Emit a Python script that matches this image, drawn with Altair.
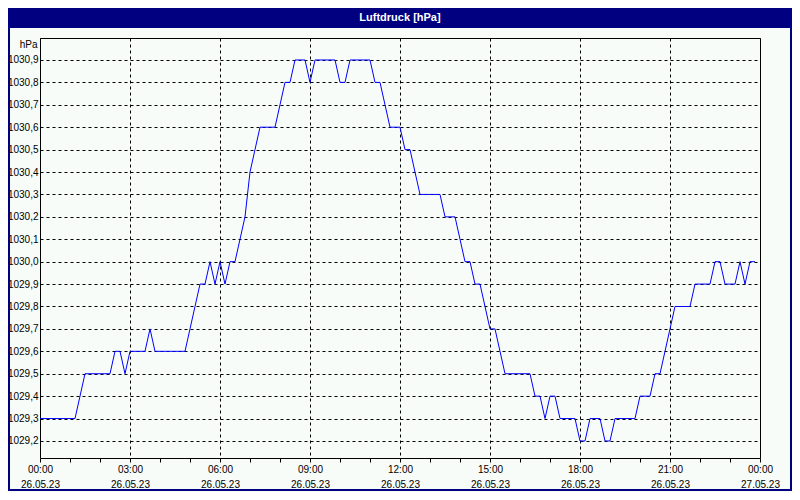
import json
import altair as alt
import pandas as pd

# Air pressure readings (hPa), one every 10 minutes from 26.05.23 00:00 to 23:50
pressure = [
    1029.3, 1029.3, 1029.3, 1029.3, 1029.3, 1029.3, 1029.3, 1029.3, 1029.4, 1029.5, 1029.5, 1029.5,
    1029.5, 1029.5, 1029.5, 1029.6, 1029.6, 1029.5, 1029.6, 1029.6, 1029.6, 1029.6, 1029.7, 1029.6,
    1029.6, 1029.6, 1029.6, 1029.6, 1029.6, 1029.6, 1029.7, 1029.8, 1029.9, 1029.9, 1030.0, 1029.9,
    1030.0, 1029.9, 1030.0, 1030.0, 1030.1, 1030.2, 1030.4, 1030.5, 1030.6, 1030.6, 1030.6, 1030.6,
    1030.7, 1030.8, 1030.8, 1030.9, 1030.9, 1030.9, 1030.8, 1030.9, 1030.9, 1030.9, 1030.9, 1030.9,
    1030.8, 1030.8, 1030.9, 1030.9, 1030.9, 1030.9, 1030.9, 1030.8, 1030.8, 1030.7, 1030.6, 1030.6,
    1030.6, 1030.5, 1030.5, 1030.4, 1030.3, 1030.3, 1030.3, 1030.3, 1030.3, 1030.2, 1030.2, 1030.2,
    1030.1, 1030.0, 1030.0, 1029.9, 1029.9, 1029.8, 1029.7, 1029.7, 1029.6, 1029.5, 1029.5, 1029.5,
    1029.5, 1029.5, 1029.5, 1029.4, 1029.4, 1029.3, 1029.4, 1029.4, 1029.3, 1029.3, 1029.3, 1029.3,
    1029.2, 1029.2, 1029.3, 1029.3, 1029.3, 1029.2, 1029.2, 1029.3, 1029.3, 1029.3, 1029.3, 1029.3,
    1029.4, 1029.4, 1029.4, 1029.5, 1029.5, 1029.6, 1029.7, 1029.8, 1029.8, 1029.8, 1029.8, 1029.9,
    1029.9, 1029.9, 1029.9, 1030.0, 1030.0, 1029.9, 1029.9, 1029.9, 1030.0, 1029.9, 1030.0, 1030.0,
]
SAMPLE_MINUTES = 10

time_labels = ["00:00", "03:00", "06:00", "09:00", "12:00", "15:00", "18:00", "21:00", "00:00"]
date_labels = ["26.05.23", "26.05.23", "26.05.23", "26.05.23", "26.05.23",
               "26.05.23", "26.05.23", "26.05.23", "27.05.23"]
y_ticks = [1029.2, 1029.3, 1029.4, 1029.5, 1029.6, 1029.7, 1029.8, 1029.9,
           1030.0, 1030.1, 1030.2, 1030.3, 1030.4, 1030.5, 1030.6, 1030.7, 1030.8, 1030.9]
x_ticks = list(range(25))

df = pd.DataFrame({
    "hour": [i * SAMPLE_MINUTES / 60 for i in range(len(pressure))],
    "hpa": pressure,
})

FONT = "Liberation Sans"
NAVY = "#000080"
BG = "#f8fcf8"

label_expr = (
    "datum.value % 3 === 0 ? [" + json.dumps(time_labels) + "[datum.value / 3], "
    + json.dumps(date_labels) + "[datum.value / 3]] : ''"
)

line = alt.Chart(df).mark_line(color="#0000ff", strokeWidth=1).encode(
    x=alt.X(
        "hour:Q",
        scale=alt.Scale(domain=[0, 24], nice=False, zero=False),
        axis=alt.Axis(
            values=x_ticks,
            title=None,
            domain=False,
            ticks=True,
            tickSize=4,
            tickColor="black",
            labelExpr=label_expr,
            labelLineHeight=15,
            labelBaseline="top",
            labelPadding=2,
            labelFont=FONT,
            labelFontSize=10,
            labelColor="black",
            labelFlush=False,
            labelOverlap=False,
            grid=True,
            gridColor="black",
            gridDash=[3, 3],
            gridWidth=1,
            gridOpacity={"condition": {"test": "datum.value % 3 === 0", "value": 1}, "value": 0},
        ),
    ),
    y=alt.Y(
        "hpa:Q",
        scale=alt.Scale(domain=[1029.124, 1030.998], nice=False, zero=False),
        axis=alt.Axis(
            values=y_ticks,
            title="hPa",
            titleAngle=0,
            titleAlign="right",
            titleBaseline="middle",
            titleX=-3,
            titleY=6,
            titleFont=FONT,
            titleFontSize=10,
            titleFontWeight="normal",
            titleColor="black",
            domain=False,
            ticks=False,
            labelExpr="replace(format(datum.value, '.1f'), '.', ',')",
            labelPadding=2,
            labelFont=FONT,
            labelFontSize=10,
            labelColor="black",
            labelOverlap=False,
            grid=True,
            gridColor="black",
            gridDash=[3, 3],
            gridWidth=1,
        ),
    ),
)

deco = pd.DataFrame({"k": [0]})
frame = alt.Chart(deco).mark_rect(fill="transparent", stroke=NAVY, strokeWidth=2).encode(
    x=alt.value(-31), x2=alt.value(751), y=alt.value(-29), y2=alt.value(452)
)
bar = alt.Chart(deco).mark_rect(fill=NAVY).encode(
    x=alt.value(-32), x2=alt.value(752), y=alt.value(-30), y2=alt.value(-10)
)
title = alt.Chart(deco).mark_text(
    text="Luftdruck [hPa]", font=FONT, fontSize=11, fontWeight="bold",
    color="white", align="center", baseline="middle"
).encode(x=alt.value(360), y=alt.value(-20))

chart = alt.layer(frame, bar, title, line).properties(
    width=720,
    height=420,
    background=BG,
    padding={"left": 32, "top": 30, "right": 32, "bottom": 34},
    autosize=alt.AutoSizeParams(type="none"),
).configure_view(
    stroke="black", strokeWidth=1, fill=BG
)

chart.save("out.html", embed_options={"renderer": "svg", "actions": False})
